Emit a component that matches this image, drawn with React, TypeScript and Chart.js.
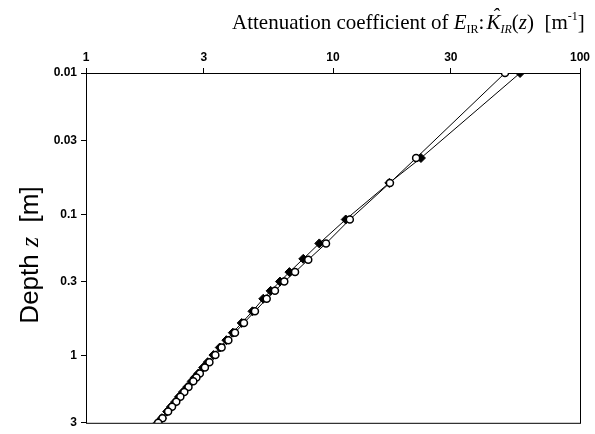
import React, { useEffect, useRef } from "react";
import { Chart, registerables } from "chart.js";

Chart.register(...registerables);

// ---- data ----
const xTickValues = [1, 3, 10, 30, 100];
const yTickValues = [0.01, 0.03, 0.1, 0.3, 1, 3];

const depthOpen = [0.01, 0.04, 0.06, 0.109, 0.161, 0.21, 0.257, 0.3, 0.349, 0.397, 0.487, 0.589, 0.69, 0.78, 0.879, 0.994, 1.116, 1.219, 1.342, 1.432, 1.526, 1.673, 1.813, 1.965, 2.129, 2.307, 2.5, 2.78, 3.0];
const kOpen = [49.7, 21.7, 17.0, 11.7, 9.37, 7.94, 7.02, 6.35, 5.82, 5.39, 4.83, 4.36, 4.01, 3.77, 3.54, 3.34, 3.16, 3.03, 2.89, 2.8, 2.72, 2.6, 2.5, 2.41, 2.32, 2.23, 2.15, 2.04, 1.96];

const depthFilled = [0.01, 0.04, 0.06, 0.109, 0.161, 0.207, 0.257, 0.3, 0.349, 0.397, 0.487, 0.589, 0.69, 0.78, 0.879, 0.994, 1.116, 1.219, 1.342, 1.432, 1.526, 1.673, 1.813, 1.965, 2.129, 2.307, 2.5, 2.78, 3.0];
const kFilled = [57.2, 22.7, 16.9, 11.26, 8.8, 7.58, 6.66, 6.1, 5.59, 5.22, 4.72, 4.27, 3.93, 3.7, 3.48, 3.28, 3.11, 2.98, 2.85, 2.76, 2.68, 2.57, 2.47, 2.38, 2.3, 2.21, 2.13, 2.03, 1.95];

const SERIF = "'Liberation Serif', 'Times New Roman', serif";
const SANS = "'Liberation Sans', Arial, sans-serif";

type Frag = { t: string; font: string; dy?: number; hat?: boolean; after?: number };

const titleFrags: Frag[] = [
  { t: "Attenuation coefficient of ", font: `21px ${SERIF}` },
  { t: "E", font: `italic 21px ${SERIF}` },
  { t: "IR", font: `12px ${SERIF}`, dy: 4 },
  { t: ":", font: `21px ${SERIF}`, after: 2 },
  { t: "K", font: `italic 21px ${SERIF}`, hat: true },
  { t: "IR", font: `italic 12px ${SERIF}`, dy: 4 },
  { t: "(", font: `21px ${SERIF}` },
  { t: "z", font: `italic 21px ${SERIF}` },
  { t: ")", font: `21px ${SERIF}` },
  { t: "  [m", font: `21px ${SERIF}` },
  { t: "-1", font: `12px ${SERIF}`, dy: -9 },
  { t: "]", font: `21px ${SERIF}` },
];

const yTitleFrags: Frag[] = [
  { t: "Depth ", font: `26px ${SANS}` },
  { t: "z", font: `italic 26px ${SERIF}` },
  { t: "  [m]", font: `26px ${SANS}` },
];

function fragsWidth(ctx: CanvasRenderingContext2D, frags: Frag[]) {
  let w = 0;
  for (const f of frags) {
    ctx.font = f.font;
    w += ctx.measureText(f.t).width + (f.after || 0);
  }
  return w;
}

function drawFrags(ctx: CanvasRenderingContext2D, frags: Frag[], x: number, y: number) {
  ctx.textAlign = "left";
  ctx.textBaseline = "alphabetic";
  for (const f of frags) {
    ctx.font = f.font;
    const w = ctx.measureText(f.t).width;
    ctx.fillText(f.t, x, y + (f.dy || 0));
    if (f.hat) {
      ctx.save();
      ctx.textAlign = "center";
      ctx.fillText("\u02C6", x + w / 2 + 2, y - 6);
      ctx.restore();
    }
    x += w + (f.after || 0);
  }
}

const decorPlugin = {
  id: "decor",
  beforeDatasetsDraw(chart: any) {
    const { ctx, chartArea } = chart;
    ctx.save();
    ctx.strokeStyle = "#000";
    ctx.lineWidth = 1;
    ctx.strokeRect(chartArea.left + 0.5, chartArea.top + 0.5, chartArea.right - chartArea.left, chartArea.bottom - chartArea.top);
    ctx.restore();
  },
  afterDraw(chart: any) {
    const { ctx } = chart;
    ctx.save();
    ctx.fillStyle = "#000";
    drawFrags(ctx, titleFrags, 232, 29);
    const w = fragsWidth(ctx, yTitleFrags);
    ctx.translate(38, 255);
    ctx.rotate(-Math.PI / 2);
    drawFrags(ctx, yTitleFrags, -w / 2, 0);
    ctx.restore();
  },
};

export default function App() {
  const ref = useRef<HTMLCanvasElement | null>(null);

  useEffect(() => {
    if (!ref.current) return;
    const openData = depthOpen.map((z, i) => ({ x: kOpen[i], y: z }));
    const filledData = depthFilled.map((z, i) => ({ x: kFilled[i], y: z }));
    const tickFont = { family: SANS, size: 12, weight: "bold" as const };
    const chart = new Chart(ref.current, {
      type: "scatter",
      data: {
        datasets: [
          {
            label: "open",
            data: openData,
            showLine: true,
            borderColor: "#000",
            borderWidth: 1,
            pointStyle: "circle",
            pointRadius: 3.5,
            pointBackgroundColor: "#fff",
            pointBorderColor: "#000",
            pointBorderWidth: 1.5,
          },
          {
            label: "filled",
            data: filledData,
            showLine: true,
            borderColor: "#000",
            borderWidth: 1,
            pointStyle: "rectRot",
            pointRadius: 4.5,
            pointBackgroundColor: "#000",
            pointBorderColor: "#000",
            pointBorderWidth: 1,
          },
        ],
      },
      options: {
        animation: false,
        responsive: false,
        maintainAspectRatio: false,
        layout: { padding: { left: 0, top: 0, right: 15, bottom: 6 } },
        plugins: { legend: { display: false }, tooltip: { enabled: false }, title: { display: false } },
        scales: {
          x: {
            type: "logarithmic",
            position: "top",
            min: 1,
            max: 100,
            afterBuildTicks: (s: any) => {
              s.ticks = xTickValues.map((v) => ({ value: v }));
            },
            afterFit: (s: any) => {
              s.height = 73;
            },
            ticks: {
              color: "#000",
              font: tickFont,
              padding: 3,
              maxRotation: 0,
              autoSkip: false,
              callback: (v: any) => String(v),
            },
            grid: { display: true, drawOnChartArea: false, drawTicks: true, tickLength: 5, color: "#000" },
            border: { display: true, color: "#000", width: 1 },
          },
          y: {
            type: "logarithmic",
            reverse: true,
            min: 0.01,
            max: 3,
            afterBuildTicks: (s: any) => {
              s.ticks = yTickValues.map((v) => ({ value: v }));
            },
            afterFit: (s: any) => {
              s.width = 86;
            },
            ticks: {
              color: "#000",
              font: tickFont,
              padding: 4,
              autoSkip: false,
              callback: (v: any) => String(v),
            },
            grid: { display: true, drawOnChartArea: false, drawTicks: true, tickLength: 5, color: "#000" },
            border: { display: true, color: "#000", width: 1 },
          },
        },
      },
      plugins: [decorPlugin],
    });
    return () => chart.destroy();
  }, []);

  return (
    <div style={{ position: "fixed", left: 0, top: 0, width: 595, height: 434, background: "#fff" }}>
      <canvas ref={ref} width={595} height={434} style={{ display: "block", width: 595, height: 434 }} />
    </div>
  );
}
